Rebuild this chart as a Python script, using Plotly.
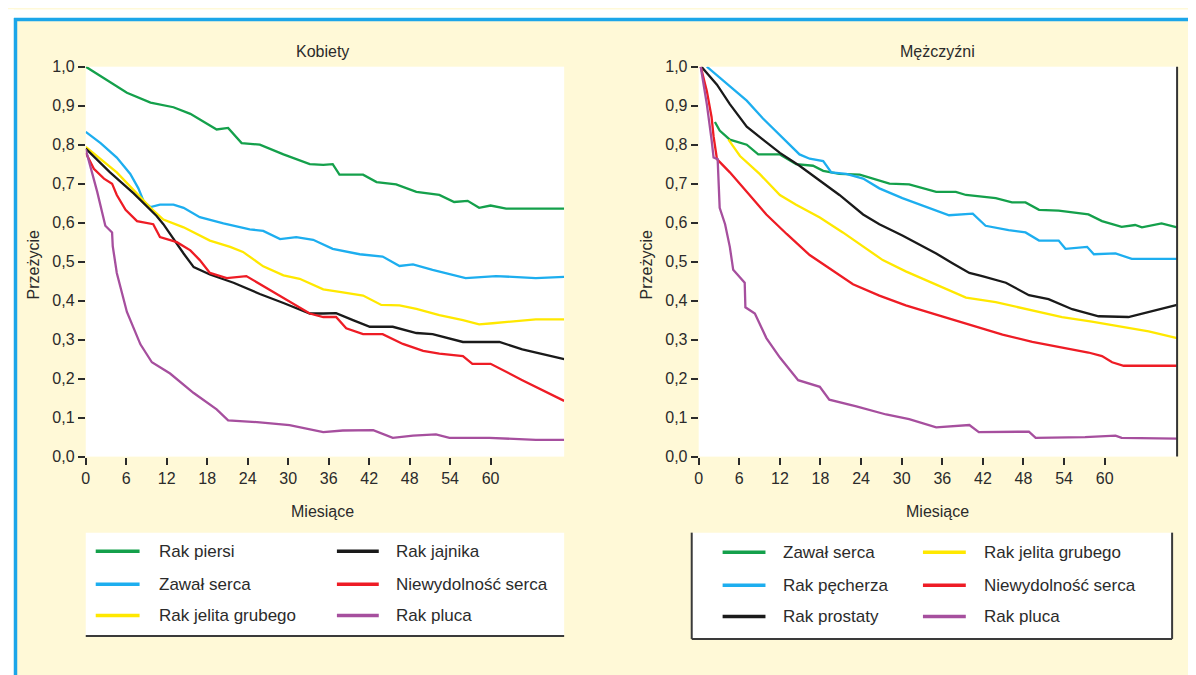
import plotly.graph_objects as go

W, H = 1196, 675
OFF = 8  # the page body margin shifts the figure by 8 px right and down

# ---------------- Data: Kobiety (left panel) ----------------
months_ticks = [0, 6, 12, 18, 24, 30, 36, 42, 48, 54, 60]
y_ticks = [0.0, 0.1, 0.2, 0.3, 0.4, 0.5, 0.6, 0.7, 0.8, 0.9, 1.0]

k_piersi_x = [0, 4.1, 6.1, 9.6, 13, 15.5, 19.4, 21.1, 23.1, 25.8, 29.3, 33.2, 35.2, 36.6, 37.6, 41.1,
              43.1, 46, 49, 52.4, 54.6, 56.6, 58.3, 60, 62.3, 70.9]
k_piersi_y = [1.0, 0.954, 0.933, 0.908, 0.896, 0.879, 0.839, 0.843, 0.804, 0.8, 0.775, 0.75, 0.748, 0.75,
              0.723, 0.723, 0.704, 0.698, 0.679, 0.671, 0.653, 0.656, 0.638, 0.644, 0.636, 0.636]

k_zawal_x = [0, 2.2, 4.6, 6.6, 7.8, 8.6, 9.6, 11, 13, 14.5, 16.9, 20.4, 24.3, 26.3, 28.8, 31.2, 33.7,
             35.2, 36.6, 40.6, 44, 46.5, 48.5, 51.4, 53.9, 56.3, 60.8, 66.7, 70.9]
k_zawal_y = [0.833, 0.804, 0.767, 0.725, 0.688, 0.654, 0.64, 0.646, 0.646, 0.638, 0.614, 0.598, 0.583,
             0.579, 0.558, 0.563, 0.556, 0.545, 0.533, 0.519, 0.513, 0.489, 0.493, 0.479, 0.469, 0.458,
             0.463, 0.458, 0.461]

k_jelito_x = [0, 4.6, 9.6, 11.5, 14.5, 18.4, 21.4, 23.3, 26.3, 29.3, 31.7, 35.2, 38.1, 41.1, 43.8, 46.5,
              49, 52.4, 55.9, 58.3, 60.3, 62.8, 66.7, 70.9]
k_jelito_y = [0.794, 0.729, 0.638, 0.608, 0.588, 0.554, 0.538, 0.525, 0.488, 0.465, 0.456, 0.429, 0.421,
              0.413, 0.389, 0.388, 0.379, 0.363, 0.35, 0.339, 0.342, 0.346, 0.352, 0.352]

k_jajnik_x = [0, 3.6, 7.1, 10.5, 11.5, 13, 14.5, 16, 18.4, 21.9, 25.8, 29.3, 33.2, 35.2, 37.1, 39.6, 42.1,
              45.5, 49, 51.4, 55.9, 61.3, 64.7, 70.9]
k_jajnik_y = [0.79, 0.729, 0.675, 0.617, 0.596, 0.558, 0.521, 0.486, 0.467, 0.446, 0.417, 0.394, 0.367,
              0.367, 0.368, 0.35, 0.333, 0.333, 0.317, 0.314, 0.294, 0.294, 0.275, 0.25]

k_niew_x = [0, 1.2, 2.7, 3.9, 4.6, 5.9, 7.6, 10, 11, 13.5, 15.5, 16.9, 18.4, 20.9, 23.8, 26.3, 29.3, 33.2,
            35.2, 37.1, 38.6, 41.1, 44, 47, 50, 52.4, 55.9, 57.3, 60, 64.7, 70.9]
k_niew_y = [0.779, 0.738, 0.713, 0.7, 0.671, 0.633, 0.604, 0.596, 0.563, 0.55, 0.529, 0.504, 0.471, 0.458,
            0.463, 0.438, 0.408, 0.367, 0.358, 0.358, 0.329, 0.314, 0.314, 0.289, 0.271, 0.264, 0.258,
            0.238, 0.238, 0.196, 0.143]

k_pluca_x = [0, 1.7, 2.9, 3.9, 4.0, 4.6, 6.1, 8.1, 9.8, 12.5, 16, 19.4, 21.1, 25.8, 30.2, 35.2, 38.1, 42.6,
             45.5, 48.5, 51.9, 53.9, 59.8, 66.7, 70.9]
k_pluca_y = [0.788, 0.679, 0.592, 0.575, 0.54, 0.471, 0.371, 0.288, 0.242, 0.213, 0.163, 0.121, 0.093,
             0.088, 0.081, 0.063, 0.067, 0.068, 0.048, 0.054, 0.057, 0.048, 0.048, 0.043, 0.043]

# ---------------- Data: Mężczyźni (right panel) ----------------
m_zawal_x = [2.4, 3.1, 4.6, 7.1, 8.8, 12, 14.4, 16.9, 18.4, 20.8, 23.8, 28.2, 31.1, 35.1, 38, 39.5, 43.9,
             46.3, 48.3, 50.3, 53.2, 57.6, 59.6, 62.5, 64.5, 65.5, 68.4, 70.7]
m_zawal_y = [0.858, 0.836, 0.813, 0.8, 0.775, 0.775, 0.75, 0.746, 0.733, 0.725, 0.723, 0.7, 0.698, 0.679,
             0.679, 0.671, 0.663, 0.652, 0.652, 0.633, 0.631, 0.621, 0.604, 0.589, 0.594, 0.588, 0.598, 0.588]

m_pecherz_x = [1.2, 4.1, 7.1, 9.5, 12, 14.9, 16.4, 18.4, 19.6, 21.8, 24.3, 26.7, 30.1, 35.1, 37, 40.5, 42.4,
               45.8, 48.3, 50.3, 53.2, 54.2, 57.4, 58.4, 61.6, 64, 70.7]
m_pecherz_y = [1.0, 0.958, 0.913, 0.867, 0.825, 0.775, 0.764, 0.758, 0.729, 0.725, 0.713, 0.688, 0.663,
               0.632, 0.619, 0.623, 0.592, 0.581, 0.575, 0.554, 0.554, 0.533, 0.538, 0.519, 0.521, 0.507, 0.507]

m_prostata_x = [0.4, 2.7, 4.6, 7.1, 9.5, 12, 14.9, 17.9, 20.8, 24.3, 26.7, 30.1, 35.1, 37.5, 40, 41.9, 45.4,
                48.8, 51.7, 55.2, 59.1, 63.5, 66.5, 70.7]
m_prostata_y = [1.0, 0.954, 0.904, 0.846, 0.813, 0.779, 0.746, 0.708, 0.671, 0.621, 0.596, 0.567, 0.521,
                0.496, 0.471, 0.463, 0.446, 0.414, 0.404, 0.378, 0.36, 0.358, 0.371, 0.389]

m_jelito_x = [4.4, 6.1, 9, 12, 14.4, 17.9, 21.3, 24.3, 27.2, 30.6, 35.1, 39.5, 43.9, 48.8, 53.7, 58.1, 62.5,
              66.5, 70.7]
m_jelito_y = [0.813, 0.771, 0.725, 0.671, 0.646, 0.613, 0.575, 0.538, 0.504, 0.475, 0.442, 0.408, 0.396,
              0.377, 0.358, 0.346, 0.333, 0.321, 0.304]

m_niew_x = [0.3, 1.2, 1.9, 2.2, 2.7, 4.6, 7.1, 10, 13, 16.4, 19.3, 22.8, 26.7, 30.6, 35.1, 40, 44.9, 49.3,
            53.7, 57.6, 59.6, 61.1, 62.8, 70.7]
m_niew_y = [1.0, 0.938, 0.871, 0.821, 0.763, 0.729, 0.679, 0.621, 0.571, 0.517, 0.483, 0.442, 0.413, 0.388,
            0.364, 0.338, 0.313, 0.294, 0.279, 0.267, 0.258, 0.242, 0.233, 0.233]

m_pluca_x = [0.3, 1.2, 1.9, 2.2, 2.8, 3.1, 3.9, 4.6, 5.1, 6.1, 6.8, 6.9, 8.3, 10, 12, 14.7, 17.9, 19.3, 23.3,
             27.7, 31.1, 35.1, 40, 41.4, 48.8, 49.8, 57.1, 61.6, 62.5, 70.7]
m_pluca_y = [1.0, 0.904, 0.813, 0.767, 0.763, 0.638, 0.596, 0.538, 0.479, 0.458, 0.446, 0.383, 0.367, 0.304,
             0.254, 0.196, 0.179, 0.146, 0.129, 0.108, 0.096, 0.075, 0.081, 0.063, 0.064, 0.048, 0.05,
             0.054, 0.048, 0.046]

# ---------------- Styles ----------------
GREEN = "#14A04B"
BLUE = "#1DAEEF"
YELLOW = "#FFE800"
BLACK = "#1A1A1A"
RED = "#EE1C25"
PURPLE = "#A64F9E"
TXT = "#2B2B2B"
CREAM = "#FFF9D7"
FONT = "Liberation Sans, Arial, sans-serif"

# (name, color, x, y, legend column, legend row)
k_series = [
    ("Rak piersi", GREEN, k_piersi_x, k_piersi_y, 0, 0),
    ("Zawał serca", BLUE, k_zawal_x, k_zawal_y, 0, 1),
    ("Rak jelita grubego", YELLOW, k_jelito_x, k_jelito_y, 0, 2),
    ("Rak jajnika", BLACK, k_jajnik_x, k_jajnik_y, 1, 0),
    ("Niewydolność serca", RED, k_niew_x, k_niew_y, 1, 1),
    ("Rak pluca", PURPLE, k_pluca_x, k_pluca_y, 1, 2),
]
m_series = [
    ("Zawał serca", GREEN, m_zawal_x, m_zawal_y, 0, 0),
    ("Rak pęcherza", BLUE, m_pecherz_x, m_pecherz_y, 0, 1),
    ("Rak prostaty", BLACK, m_prostata_x, m_prostata_y, 0, 2),
    ("Rak jelita grubego", YELLOW, m_jelito_x, m_jelito_y, 1, 0),
    ("Niewydolność serca", RED, m_niew_x, m_niew_y, 1, 1),
    ("Rak pluca", PURPLE, m_pluca_x, m_pluca_y, 1, 2),
]


def px(x):
    return (x - OFF) / W


def py(y):
    return 1 - (y - OFF) / H


fig = go.Figure()

for s in k_series:
    fig.add_trace(go.Scatter(x=s[2], y=s[3], mode="lines", name=s[0],
                             line=dict(color=s[1], width=2.3), xaxis="x", yaxis="y",
                             showlegend=False))
for s in m_series:
    fig.add_trace(go.Scatter(x=s[2], y=s[3], mode="lines", name=s[0],
                             line=dict(color=s[1], width=2.3), xaxis="x2", yaxis="y2",
                             showlegend=False))

yb, yt = 460, 60
common_x = dict(tickvals=months_ticks, ticktext=[str(v) for v in months_ticks],
                ticks="outside", ticklen=7, tickwidth=1.5, tickcolor=TXT,
                showgrid=False, zeroline=False, showline=False,
                tickfont=dict(family=FONT, size=16, color=TXT), fixedrange=True)
common_y = dict(range=[0, 1], tickvals=y_ticks, tickformat=".1f",
                ticks="outside", ticklen=7, tickwidth=1.5, tickcolor=TXT,
                showgrid=False, zeroline=False, showline=False,
                tickfont=dict(family=FONT, size=16, color=TXT), fixedrange=True)

fig.update_layout(
    width=W, height=H,
    margin=dict(l=0, r=0, t=0, b=0),
    paper_bgcolor=CREAM,
    plot_bgcolor="white",
    separators=", ",
    font=dict(family=FONT, size=16, color=TXT),
    xaxis=dict(domain=[px(82), px(562)], range=[0, 70.9], anchor="y", **common_x),
    yaxis=dict(domain=[py(yb), py(yt)], anchor="x", **common_y),
    xaxis2=dict(domain=[px(697), px(1177)], range=[0, 70.7], anchor="y2", **common_x),
    yaxis2=dict(domain=[py(yb), py(yt)], anchor="x2", **common_y),
)

shapes = []
annotations = []

# thin white edge + blue frame at the top and the left
shapes.append(dict(type="rect", xref="paper", yref="paper", x0=-0.01, x1=1.01, y0=py(10), y1=1.01,
                   fillcolor="white", line=dict(width=0), layer="above"))
shapes.append(dict(type="rect", xref="paper", yref="paper", x0=-0.01, x1=px(10), y0=-0.01, y1=1.01,
                   fillcolor="white", line=dict(width=0), layer="above"))
shapes.append(dict(type="line", xref="paper", yref="paper", x0=px(10), x1=1.01, y0=py(11.5), y1=py(11.5),
                   line=dict(color="#1BA6E9", width=3.5)))
shapes.append(dict(type="line", xref="paper", yref="paper", x0=px(11.5), x1=px(11.5), y0=-0.01, y1=py(10),
                   line=dict(color="#1BA6E9", width=3.5)))

# right edge line of right panel
shapes.append(dict(type="line", xref="x2 domain", yref="y2 domain", x0=1, x1=1, y0=0, y1=1,
                   line=dict(color="#333333", width=2)))

# panel titles and axis titles
for cx, title in [(320, "Kobiety"), (937, "Mężczyźni")]:
    annotations.append(dict(text=title, x=px(cx), y=py(44), xref="paper", yref="paper",
                            showarrow=False, xanchor="center", yanchor="middle",
                            font=dict(family=FONT, size=16, color=TXT)))
    annotations.append(dict(text="Miesiące", x=px(cx), y=py(516), xref="paper", yref="paper",
                            showarrow=False, xanchor="center", yanchor="middle",
                            font=dict(family=FONT, size=16, color=TXT)))
for cx in [30, 645]:
    annotations.append(dict(text="Przeżycie", x=px(cx), y=py(263), xref="paper", yref="paper",
                            showarrow=False, xanchor="center", yanchor="middle", textangle=-90,
                            font=dict(family=FONT, size=16, color=TXT)))


def legend(series, box, col_line_x, col_text_x, rows_y, borders):
    x0, y0, x1, y1 = box
    shapes.append(dict(type="rect", xref="paper", yref="paper", x0=px(x0), x1=px(x1),
                       y0=py(y1), y1=py(y0), fillcolor="white", line=dict(width=0)))
    for (a, b, c, d) in borders:
        shapes.append(dict(type="line", xref="paper", yref="paper", x0=px(a), x1=px(c),
                           y0=py(b), y1=py(d), line=dict(color="#3A3A3A", width=2)))
    for name, color, _, _, col, row in series:
        lx0, lx1 = col_line_x[col]
        yy = rows_y[row]
        shapes.append(dict(type="line", xref="paper", yref="paper", x0=px(lx0), x1=px(lx1),
                           y0=py(yy), y1=py(yy), line=dict(color=color, width=3.5)))
        annotations.append(dict(text=name, x=px(col_text_x[col]), y=py(yy), xref="paper", yref="paper",
                                showarrow=False, xanchor="left", yanchor="middle",
                                font=dict(family=FONT, size=17, color=TXT)))


legend(k_series, (82, 538, 562, 644),
       [(92, 136), (334, 376)], [153, 391], [557, 591, 623],
       [(82, 644, 562, 644)])
legend(m_series, (690, 538, 1172, 647),
       [(721, 764), (922, 965)], [780, 981], [558, 592, 624],
       [(690, 538, 690, 647), (1172, 538, 1172, 647), (690, 647, 1172, 647)])

fig.update_layout(shapes=shapes, annotations=annotations)

fig.write_html("out.html")
